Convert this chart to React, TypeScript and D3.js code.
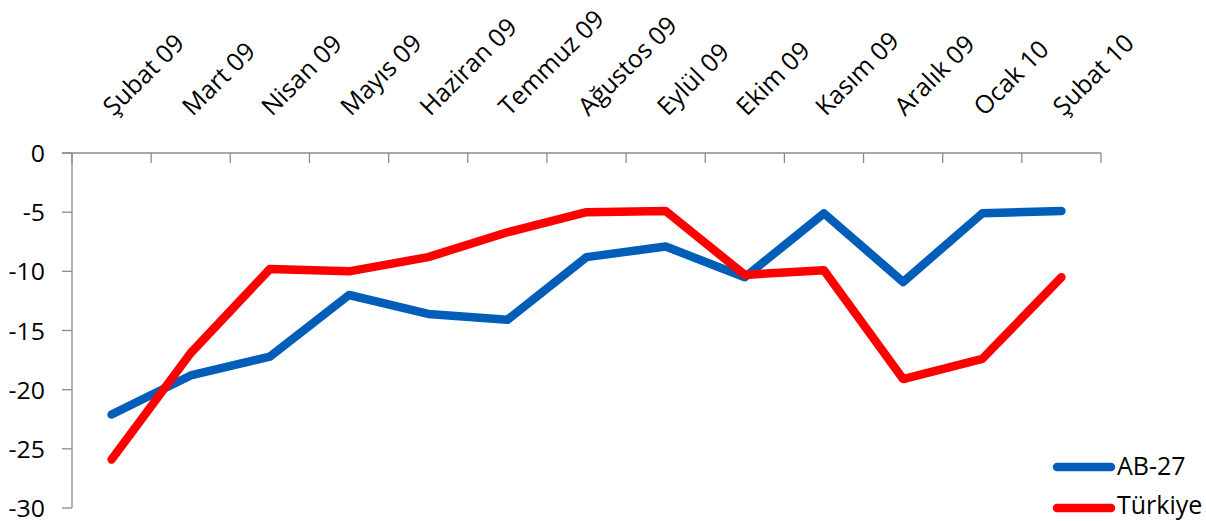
import React from "react";
import * as d3 from "d3";

const categories = [
  "Şubat 09", "Mart 09", "Nisan 09", "Mayıs 09", "Haziran 09", "Temmuz 09",
  "Ağustos 09", "Eylül 09", "Ekim 09", "Kasım 09", "Aralık 09", "Ocak 10", "Şubat 10",
];
const ab27 = [-22.1, -18.8, -17.2, -12.0, -13.6, -14.1, -8.8, -7.9, -10.5, -5.1, -10.9, -5.1, -4.9];
const turkiye = [-25.9, -16.9, -9.8, -10.0, -8.8, -6.7, -5.0, -4.9, -10.3, -9.9, -19.1, -17.4, -10.5];
const yTicks = [0, -5, -10, -15, -20, -25, -30];
const seriesNames = ["AB-27", "Türkiye"];

const W = 1206;
const H = 521;
const BLUE = "#005EB8";
const RED = "#FF0000";
const AXIS = "#8C8C8C";
const FONT = "'Open Sans', 'Noto Sans', sans-serif";

export default function App() {
  const x = d3.scaleBand<string>().domain(categories).range([72, 1101]).padding(0);
  const y = d3.scaleLinear().domain([-30, 0]).range([508, 153]);
  const cx = (c: string) => (x(c) as number) + x.bandwidth() / 2;
  const line = d3
    .line<number>()
    .x((_, i) => cx(categories[i]))
    .y((d) => y(d));
  const series = [
    { name: seriesNames[0], values: ab27, color: BLUE },
    { name: seriesNames[1], values: turkiye, color: RED },
  ];
  const boundaries = categories.map((c) => x(c) as number).concat([x.range()[1]]);
  const legendY = [467, 508];
  const legendBase = [475, 514];

  return (
    <svg
      width={W}
      height={H}
      style={{ position: "absolute", left: 0, top: 0, background: "#fff" }}
      fontFamily={FONT}
    >
      {/* y axis */}
      <line x1={72} x2={72} y1={y(0)} y2={y(-30)} stroke={AXIS} strokeWidth={1.3} />
      {yTicks.map((t) => (
        <g key={t}>
          <line x1={62} x2={72} y1={y(t)} y2={y(t)} stroke={AXIS} strokeWidth={1.3} />
          <text
            transform={`translate(45,${y(t)}) scale(1.08,1)`}
            textAnchor="end"
            dominantBaseline="central"
            fontSize={23}
            fill="#000"
          >
            {t}
          </text>
        </g>
      ))}
      {/* x axis at top (value 0) */}
      <line x1={62} x2={x.range()[1]} y1={y(0)} y2={y(0)} stroke={AXIS} strokeWidth={1.3} />
      {boundaries.map((b, i) => (
        <line key={i} x1={b} x2={b} y1={y(0)} y2={y(0) + 10} stroke={AXIS} strokeWidth={1.3} />
      ))}
      {categories.map((c) => (
        <text
          key={c}
          transform={`translate(${cx(c) + 2},117) rotate(-45)`}
          textAnchor="start"
          fontSize={25}
          fill="#000"
        >
          {c}
        </text>
      ))}
      {/* series */}
      {series.map((s) => (
        <path
          key={s.name}
          d={line(s.values) as string}
          fill="none"
          stroke={s.color}
          strokeWidth={8.5}
          strokeLinecap="round"
          strokeLinejoin="round"
        />
      ))}
      {/* legend */}
      {series.map((s, i) => (
        <g key={s.name}>
          <line
            x1={1057}
            x2={1111}
            y1={legendY[i]}
            y2={legendY[i]}
            stroke={s.color}
            strokeWidth={8.5}
            strokeLinecap="round"
          />
          <text x={1117} y={legendBase[i]} fontSize={25} fill="#000">
            {s.name}
          </text>
        </g>
      ))}
    </svg>
  );
}
